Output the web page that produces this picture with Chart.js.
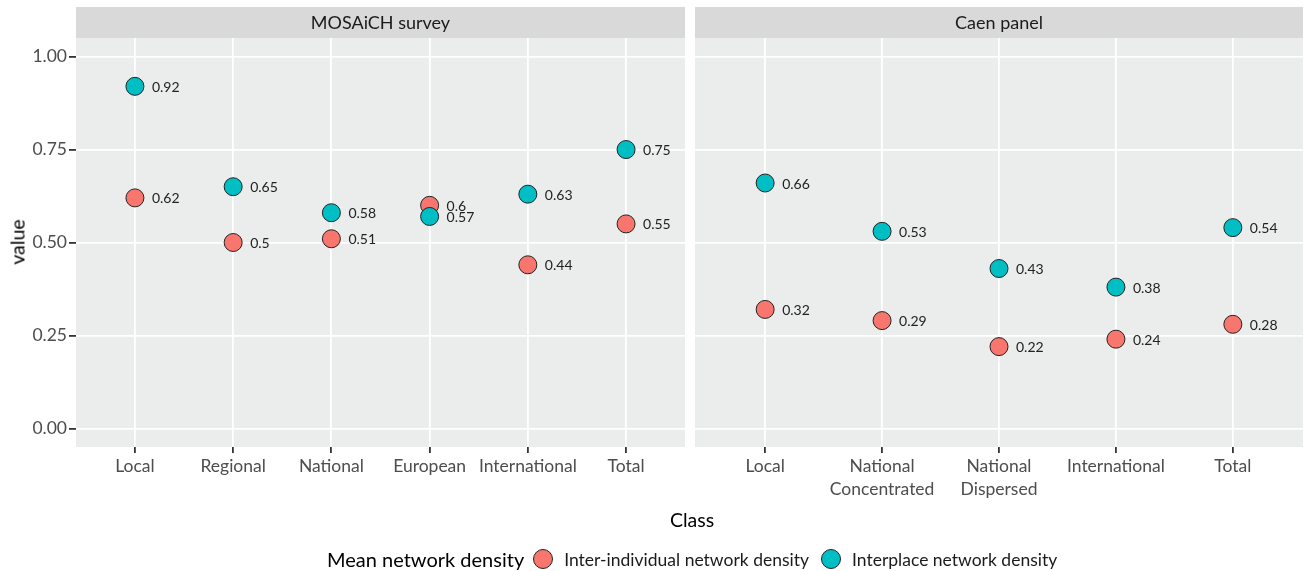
<!DOCTYPE html>
<html>
<head>
<meta charset="utf-8">
<script src="https://cdn.jsdelivr.net/npm/chart.js@4.4.1/dist/chart.umd.min.js"></script>
<style>
  body { margin: 0; background: #fff; font-family: Lato, sans-serif; }
  #wrap { position: relative; width: 1306px; height: 571px; overflow: hidden; }
  canvas { position: absolute; top: 0; }
  #left { left: 0; }
  #right { left: 690px; }
  .axis-title { position: absolute; font-size: 19.5px; color: #000; }
  #ytitle { left: 17px; top: 242px; transform: translate(-50%, -50%) rotate(-90deg); }
  #xtitle { left: 692px; top: 519px; transform: translate(-50%, -50%); }
  #legend { position: absolute; top: 559px; left: 327px; transform: translateY(-50%);
            display: flex; align-items: center; font-size: 17.5px; color: #1a1a1a; white-space: nowrap; }
  #legend .ttl { font-size: 20px; color: #000; margin-right: 9px; }
  #legend .dot { display: inline-block; width: 20px; height: 20px; border-radius: 50%;
                 border: 1px solid #222; box-sizing: border-box; margin-right: 11px; }
  #legend .item { display: flex; align-items: center; margin-right: 12px; }
</style>
</head>
<body>
<div id="wrap">
  <canvas id="left" width="690" height="571"></canvas>
  <canvas id="right" width="616" height="571"></canvas>
  <div id="ytitle" class="axis-title">value</div>
  <div id="xtitle" class="axis-title">Class</div>
  <div id="legend">
    <span class="ttl">Mean network density</span>
    <span class="item"><span class="dot" style="background:#F8766D"></span>Inter-individual network density</span>
    <span class="item"><span class="dot" style="background:#00BFC4"></span>Interplace network density</span>
  </div>
</div>
<script>
// Data
const mosaichClasses = ["Local", "Regional", "National", "European", "International", "Total"];
const mosaichInterIndividual = [0.62, 0.5, 0.51, 0.6, 0.44, 0.55];
const mosaichInterplace = [0.92, 0.65, 0.58, 0.57, 0.63, 0.75];

const caenClasses = ["Local", ["National", "Concentrated"], ["National", "Dispersed"], "International", "Total"];
const caenInterIndividual = [0.32, 0.29, 0.22, 0.24, 0.28];
const caenInterplace = [0.66, 0.53, 0.43, 0.38, 0.54];

const yTicks = [0, 0.25, 0.5, 0.75, 1];

const RED = "#F8766D";
const TEAL = "#00BFC4";
const FONT = "Lato, sans-serif";

function fmt(v) {
    return String(Number(v.toFixed(2)));
}

function toPoints(values) {
    return values.map((v, i) => ({ x: i, y: v }));
}

// Panel background + strip on top
const panelPlugin = {
    id: "panel",
    beforeDraw(chart, args, opts) {
        const a = chart.chartArea;
        const ctx = chart.ctx;
        ctx.save();
        ctx.fillStyle = "#EBECEC";
        ctx.fillRect(a.left, a.top, a.right - a.left, a.bottom - a.top);
        ctx.fillStyle = "#D9D9D9";
        ctx.fillRect(a.left, 7, a.right - a.left, a.top - 7);
        ctx.fillStyle = "#1A1A1A";
        ctx.font = "18px " + FONT;
        ctx.textAlign = "center";
        ctx.textBaseline = "middle";
        ctx.fillText(opts.title, (a.left + a.right) / 2, (7 + a.top) / 2 + 1);
        ctx.restore();
    }
};

// Value labels right of each point
const labelPlugin = {
    id: "pointLabels",
    afterDatasetsDraw(chart) {
        const ctx = chart.ctx;
        ctx.save();
        ctx.fillStyle = "#222";
        ctx.font = "14px " + FONT;
        ctx.textAlign = "left";
        ctx.textBaseline = "middle";
        chart.data.datasets.forEach((ds, di) => {
            chart.getDatasetMeta(di).data.forEach((el, i) => {
                ctx.fillText(fmt(ds.data[i].y), el.x + 17, el.y + 1);
            });
        });
        ctx.restore();
    }
};

function makeChart(id, classes, inter, place, title, showY) {
    const n = classes.length;
    return new Chart(document.getElementById(id), {
        type: "scatter",
        data: {
            datasets: [
                {
                    label: "Inter-individual network density",
                    data: toPoints(inter),
                    backgroundColor: RED,
                    order: 2
                },
                {
                    label: "Interplace network density",
                    data: toPoints(place),
                    backgroundColor: TEAL,
                    order: 1
                }
            ]
        },
        options: {
            responsive: false,
            animation: false,
            devicePixelRatio: 1,
            layout: {
                autoPadding: false,
                padding: { top: 38, left: showY ? 0 : 5, right: showY ? 5 : 3, bottom: 0 }
            },
            elements: {
                point: { radius: 9, hoverRadius: 9, borderColor: "#222", borderWidth: 1 }
            },
            plugins: {
                legend: { display: false },
                tooltip: { enabled: false },
                panel: { title: title }
            },
            scales: {
                x: {
                    type: "linear",
                    min: -0.6,
                    max: n - 1 + 0.6,
                    afterBuildTicks: s => { s.ticks = classes.map((c, i) => ({ value: i })); },
                    afterFit: s => {
                        s.height = 571 - 447;
                        s.paddingLeft = 0;
                        s.paddingRight = 0;
                    },
                    grid: { color: "#fff", lineWidth: 1.8, tickColor: "#333", tickLength: 6 },
                    border: { display: false },
                    ticks: {
                        callback: v => classes[v],
                        autoSkip: false,
                        maxRotation: 0,
                        padding: 2,
                        color: "#4D4D4D",
                        font: { family: FONT, size: 17.5, lineHeight: 1.3 }
                    }
                },
                y: {
                    min: -0.05,
                    max: 1.05,
                    afterBuildTicks: s => { s.ticks = yTicks.map(v => ({ value: v })); },
                    afterFit: s => {
                        s.width = showY ? 76 : 0;
                        s.paddingTop = 0;
                        s.paddingBottom = 0;
                    },
                    grid: { color: "#fff", lineWidth: 1.8, tickColor: "#333", tickLength: 7, drawTicks: showY },
                    border: { display: false },
                    ticks: {
                        display: showY,
                        callback: v => v.toFixed(2),
                        padding: 2,
                        color: "#4D4D4D",
                        font: { family: FONT, size: 17.5 }
                    }
                }
            }
        },
        plugins: [panelPlugin, labelPlugin]
    });
}

makeChart("left", mosaichClasses, mosaichInterIndividual, mosaichInterplace, "MOSAiCH survey", true);
makeChart("right", caenClasses, caenInterIndividual, caenInterplace, "Caen panel", false);
</script>
</body>
</html>
